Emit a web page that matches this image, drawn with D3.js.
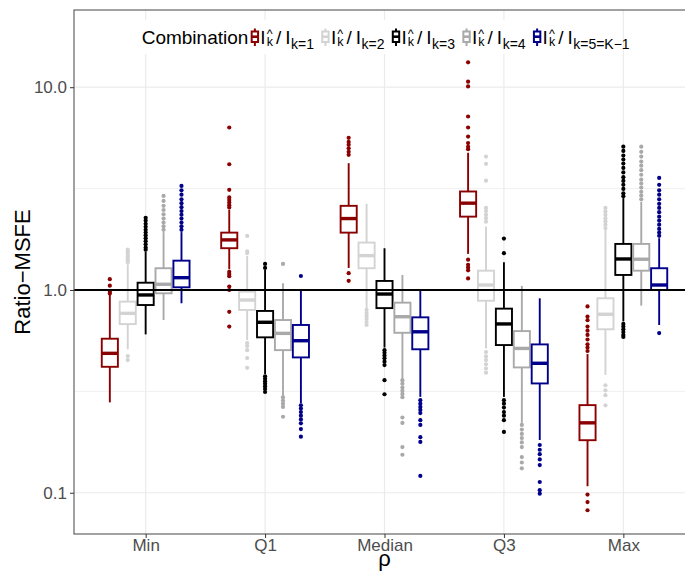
<!DOCTYPE html>
<html lang="en">
<head>
<meta charset="UTF-8">
<title>Ratio-MSFE</title>
<script src="https://cdn.jsdelivr.net/npm/d3@7"></script>
<style>
    body{margin:0;background:#fff;}
    svg{font-family:"Liberation Sans",Arial,sans-serif;}
    .axis .domain{display:none;}
    .axis text{fill:#4d4d4d;font-size:17px;}
    .axis line{stroke:#333;}
</style>
</head>
<body>
<svg width="685" height="571"></svg>
<script>
// categories on the x axis
var categories = ['Min','Q1','Median','Q3','Max'];
// the five combinations (legend subscripts)
var comboSubs = ['k=1','k=2','k=3','k=4','k=5=K\u22121'];
var comboColors = ['#8b0000','#d3d3d3','#000000','#a9a9a9','#00008b'];
var yTicks = [0.1, 1, 10];

// box statistics, one row per combination, one value per category
var whiskerLow = [
    [0.279, 1.265, 1.284, 1.506, 0.1077],
    [0.510, 0.566, 0.815, 0.515, 0.381],
    [0.604, 0.385, 0.520, 0.297, 0.700],
    [0.711, 0.303, 0.366, 0.221, 0.837],
    [0.860, 0.276, 0.297, 0.182, 0.672]
];
var q1 = [
    [0.418, 1.607, 1.918, 2.30, 0.1816],
    [0.679, 0.797, 1.280, 0.885, 0.640],
    [0.843, 0.584, 0.814, 0.535, 1.186],
    [0.963, 0.505, 0.615, 0.415, 1.245],
    [1.031, 0.465, 0.510, 0.346, 1.000]
];
var median = [
    [0.487, 1.766, 2.25, 2.68, 0.2212],
    [0.767, 0.892, 1.477, 1.058, 0.759],
    [0.945, 0.693, 0.955, 0.680, 1.422],
    [1.067, 0.611, 0.738, 0.515, 1.418],
    [1.150, 0.562, 0.622, 0.435, 1.058]
];
var q3 = [
    [0.575, 1.918, 2.60, 3.06, 0.2705],
    [0.876, 0.981, 1.713, 1.245, 0.910],
    [1.086, 0.788, 1.108, 0.809, 1.687],
    [1.280, 0.711, 0.866, 0.627, 1.687],
    [1.395, 0.672, 0.733, 0.539, 1.280]
];
var whiskerHigh = [
    [0.945, 2.48, 4.22, 4.75, 0.483],
    [1.340, 1.470, 2.66, 2.054, 1.979],
    [1.546, 1.255, 1.606, 1.370, 2.838],
    [1.930, 1.079, 1.186, 1.047, 2.720],
    [1.930, 1.008, 1.008, 0.910, 1.800]
];
// outlying points, per combination then per category
var outliers = [
    [
        [1.13, 1.05, 0.98, 0.96],
        [6.33, 4.17, 3.12, 2.86, 2.78, 2.70, 2.62, 2.55, 1.23, 1.20, 1.17, 1.04, 1.00, 0.78, 0.66],
        [5.63, 5.37, 5.20, 5.00, 4.80, 4.64, 1.21, 1.11],
        [13.26, 10.65, 10.09, 7.17, 6.33, 5.71, 5.30, 5.08, 4.95, 1.41, 1.33, 1.29, 1.25, 1.14],
        [0.83, 0.74, 0.71, 0.66, 0.63, 0.60, 0.57, 0.54, 0.52, 0.50, 0.098, 0.090, 0.082]
    ],
    [
        [1.58, 1.55, 1.52, 1.49, 1.46, 1.43, 1.40, 1.37, 0.472, 0.451],
        [1.847, 1.55, 1.52, 0.547, 0.53, 0.505, 0.462, 0.413],
        [0.797, 0.77, 0.745, 0.72, 0.695, 0.672],
        [4.55, 4.19, 3.46, 2.54, 2.45, 2.35, 2.26, 2.17, 0.494, 0.47, 0.451, 0.43, 0.41, 0.391],
        [2.54, 2.44, 2.35, 2.26, 2.18, 2.10, 2.02, 0.339, 0.32, 0.303, 0.27]
    ],
    [
        [2.27, 2.20, 2.12, 2.05, 1.98, 1.92, 1.86, 1.80, 1.74, 1.68, 1.62, 1.58],
        [1.344, 1.284, 0.375, 0.365, 0.355, 0.345, 0.335, 0.325, 0.314],
        [0.505, 0.49, 0.475, 0.46, 0.443, 0.426, 0.359, 0.306],
        [1.792, 1.518, 0.286, 0.275, 0.263, 0.25, 0.24, 0.228, 0.1996],
        [5.09, 4.85, 4.60, 4.40, 4.20, 4.00, 3.80, 3.60, 3.45, 3.30, 3.15, 3.00, 2.90, 0.68, 0.66, 0.64, 0.62, 0.60, 0.587]
    ],
    [
        [2.91, 2.75, 2.60, 2.48, 2.36, 2.25, 2.15, 2.06, 1.98],
        [1.344, 0.296, 0.285, 0.275, 0.265, 0.237],
        [0.359, 0.345, 0.33, 0.318, 0.307, 0.296, 0.235, 0.221, 0.168, 0.154],
        [0.216, 0.205, 0.195, 0.186, 0.177, 0.168, 0.15, 0.141, 0.132],
        [5.09, 4.80, 4.55, 4.30, 4.10, 3.90, 3.70, 3.50, 3.35, 3.20, 3.05, 2.92, 2.80]
    ],
    [
        [3.26, 3.10, 2.95, 2.80, 2.68, 2.56, 2.45, 2.35, 2.25, 2.15, 2.06, 1.98],
        [1.172, 0.27, 0.26, 0.25, 0.24, 0.23, 0.22, 0.206, 0.189],
        [0.286, 0.275, 0.265, 0.256, 0.247, 0.228, 0.216, 0.188, 0.178, 0.121],
        [0.172, 0.163, 0.155, 0.146, 0.137, 0.113, 0.103, 0.099],
        [3.57, 3.30, 3.10, 2.95, 2.80, 2.66, 2.54, 2.42, 2.30, 2.20, 2.10, 2.00, 1.92, 1.85, 0.613]
    ]
];

var svg = d3.select('svg'),
    panel = {left:74, right:695, top:10, bottom:534};

var x = d3.scalePoint()
    .domain(categories)
    .range([panel.left, panel.right])
    .padding(0.6);
var y = d3.scaleLog()
    .domain([0.0626, 24.03])
    .range([panel.bottom, panel.top]);

var step = x.step(),
    dodge = step * 0.15,
    boxW = dodge * 0.9;

// build a flat table for drawing
var boxes = [];
comboSubs.forEach(function(s, j){
    categories.forEach(function(c, i){
        boxes.push({
            combo:j, cat:c,
            cx: x(c) + (j - 2) * dodge,
            lo:whiskerLow[j][i], q1:q1[j][i], med:median[j][i],
            q3:q3[j][i], hi:whiskerHigh[j][i], out:outliers[j][i]
        });
    });
});

/********* grid *********/
var grid = svg.append('g');
var minor = [Math.sqrt(0.1), Math.sqrt(10)];
grid.selectAll('.hminor').data(minor).enter().append('line')
    .attr('x1',panel.left).attr('x2',panel.right)
    .attr('y1',function(d){return y(d);}).attr('y2',function(d){return y(d);})
    .attr('stroke','#f0f0f0').attr('stroke-width',1);
grid.selectAll('.hmajor').data(yTicks).enter().append('line')
    .attr('x1',panel.left).attr('x2',panel.right)
    .attr('y1',function(d){return y(d);}).attr('y2',function(d){return y(d);})
    .attr('stroke','#ebebeb').attr('stroke-width',1.2);
grid.selectAll('.vmajor').data(categories).enter().append('line')
    .attr('y1',panel.top).attr('y2',panel.bottom)
    .attr('x1',function(d){return x(d);}).attr('x2',function(d){return x(d);})
    .attr('stroke','#ebebeb').attr('stroke-width',1.2);

/********* boxplots *********/
var bp = svg.append('g').selectAll('g').data(boxes).enter().append('g')
    .attr('stroke',function(d){return comboColors[d.combo];})
    .attr('fill',function(d){return comboColors[d.combo];});

bp.selectAll('circle').data(function(d){return d.out.map(function(v){return {v:v, cx:d.cx};});})
    .enter().append('circle')
    .attr('cx',function(d){return d.cx;})
    .attr('cy',function(d){return y(d.v);})
    .attr('r',2.1)
    .attr('stroke','none');
bp.append('line')
    .attr('x1',function(d){return d.cx;}).attr('x2',function(d){return d.cx;})
    .attr('y1',function(d){return y(d.hi);}).attr('y2',function(d){return y(d.q3);})
    .attr('stroke-width',1.9);
bp.append('line')
    .attr('x1',function(d){return d.cx;}).attr('x2',function(d){return d.cx;})
    .attr('y1',function(d){return y(d.q1);}).attr('y2',function(d){return y(d.lo);})
    .attr('stroke-width',1.9);
bp.append('rect')
    .attr('x',function(d){return d.cx - boxW/2;})
    .attr('width',boxW)
    .attr('y',function(d){return y(d.q3);})
    .attr('height',function(d){return y(d.q1) - y(d.q3);})
    .attr('fill','#fff')
    .attr('stroke-width',1.9);
bp.append('line')
    .attr('x1',function(d){return d.cx - boxW/2;}).attr('x2',function(d){return d.cx + boxW/2;})
    .attr('y1',function(d){return y(d.med);}).attr('y2',function(d){return y(d.med);})
    .attr('stroke-width',3.4);

// reference line at 1
svg.append('line')
    .attr('x1',panel.left).attr('x2',panel.right)
    .attr('y1',y(1)).attr('y2',y(1))
    .attr('stroke','#000').attr('stroke-width',1.8);

/********* axes *********/
svg.append('rect')
    .attr('x',panel.left).attr('y',panel.top)
    .attr('width',panel.right-panel.left).attr('height',panel.bottom-panel.top)
    .attr('fill','none').attr('stroke','#555').attr('stroke-width',1.1);

svg.append('g').attr('class','axis')
    .attr('transform','translate('+panel.left+',0)')
    .call(d3.axisLeft(y).tickValues(yTicks).tickFormat(d3.format('.1f')).tickSize(4).tickPadding(3));
svg.append('g').attr('class','axis')
    .attr('transform','translate(0,'+panel.bottom+')')
    .call(d3.axisBottom(x).tickSize(4).tickPadding(1));

svg.append('text')
    .attr('transform','rotate(-90)')
    .attr('x',-(panel.top+panel.bottom)/2).attr('y',30)
    .attr('text-anchor','middle')
    .style('font-size','22px')
    .text('Ratio\u2212MSFE');
svg.append('text')
    .attr('x',(panel.left+panel.right)/2).attr('y',566)
    .attr('text-anchor','middle')
    .style('font-size','22px')
    .text('\u03c1');

/********* legend *********/
var lgBg = svg.append('rect').attr('fill','#fff');
var lg = svg.append('g'),
    B = 44, cx = 141.7;

function txt(xp, yp, size, s){
    var t = lg.append('text').attr('x',xp).attr('y',yp).style('font-size',size+'px').text(s);
    return t.node().getComputedTextLength();
}

cx += txt(cx, B, 19, 'Combination') + 3;
comboSubs.forEach(function(s, j){
    var col = comboColors[j], kc = cx + 3.5;
    lg.append('line').attr('x1',kc).attr('x2',kc).attr('y1',B-15.5).attr('y2',B+2)
        .attr('stroke',col).attr('stroke-width',2);
    lg.append('rect').attr('x',kc-3.2).attr('width',6.4).attr('y',B-12.5).attr('height',10.5)
        .attr('fill','#fff').attr('stroke',col).attr('stroke-width',2);
    lg.append('line').attr('x1',kc-3.2).attr('x2',kc+3.2).attr('y1',B-7.3).attr('y2',B-7.3)
        .attr('stroke',col).attr('stroke-width',2.6);
    cx += 9;
    cx += txt(cx, B, 19, 'I') + 1;
    var wh = txt(cx, B-6, 12.5, '^');
    var wk = txt(cx, B+2, 12.5, 'k');
    cx += Math.max(wh, wk) + 3;
    cx += txt(cx, B, 19, '/') + 4;
    cx += txt(cx, B, 19, 'I') + 0.5;
    cx += txt(cx, B+5, 14, s) + 8;
});
lgBg.attr('x',136).attr('y',20).attr('width',Math.min(cx, 618) - 136).attr('height',34);
</script>
</body>
</html>
